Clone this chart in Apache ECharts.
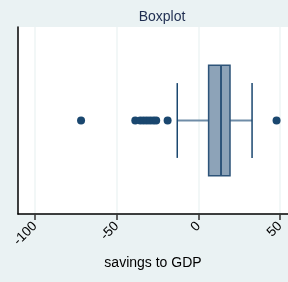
<!DOCTYPE html>
<html>
<head>
<meta charset="utf-8">
<script src="https://cdn.jsdelivr.net/npm/echarts@6/dist/echarts.min.js"></script>
<style>
  html, body { margin: 0; padding: 0; background: #eaf2f3; }
  #chart { width: 288px; height: 282px; }
</style>
</head>
<body>
<div id="chart"></div>
<script>
  'use strict'

  // box stats: [lower whisker, Q1, median, Q3, upper whisker]
  var categories = ['savings'];
  var boxStats = [-12.9, 6.3, 13.9, 19.4, 32.9];
  var outliers = [-71.8, -38.6, -35.5, -33.5, -31.5, -29.5, -27.5, -25.8, -18.8, 47.9];
  var tickValues = [-100, -50, 0, 50];

  var navy = '#1a476f';

  function renderBox(params, api) {
    var lo = api.value(1), q1 = api.value(2), med = api.value(3), q3 = api.value(4), hi = api.value(5);
    var c = api.coord([lo, api.value(0)]);
    var cy = c[1];
    var band = api.size([0, 1])[1];
    var bh = band * 0.295;
    var ch = band * 0.2;
    var xLo = c[0];
    var xQ1 = api.coord([q1, 0])[0];
    var xMed = api.coord([med, 0])[0];
    var xQ3 = api.coord([q3, 0])[0];
    var xHi = api.coord([hi, 0])[0];
    return {
      type: 'group',
      children: [
        { type: 'line', shape: { x1: xLo, y1: cy, x2: xQ1, y2: cy }, style: { stroke: '#6f8ca7', lineWidth: 2 } },
        { type: 'line', shape: { x1: xQ3, y1: cy, x2: xHi, y2: cy }, style: { stroke: '#6f8ca7', lineWidth: 2 } },
        { type: 'line', shape: { x1: xLo, y1: cy - ch, x2: xLo, y2: cy + ch }, style: { stroke: navy, lineWidth: 1.5 } },
        { type: 'line', shape: { x1: xHi, y1: cy - ch, x2: xHi, y2: cy + ch }, style: { stroke: navy, lineWidth: 1.5 } },
        { type: 'rect', shape: { x: xQ1, y: cy - bh, width: xQ3 - xQ1, height: bh * 2 }, style: { fill: '#8da3b8', stroke: '#2e5479', lineWidth: 1.5 } },
        { type: 'line', shape: { x1: xMed, y1: cy - bh, x2: xMed, y2: cy + bh }, style: { stroke: '#2e5479', lineWidth: 2 } }
      ]
    };
  }

  var chart = echarts.init(document.getElementById('chart'));

  var option = {
    backgroundColor: '#eaf2f3',
    animation: false,
    title: {
      text: 'Boxplot',
      left: 157,
      top: 5,
      textAlign: 'center',
      textStyle: { fontFamily: 'Liberation Sans', fontSize: 14, fontWeight: 'normal', color: '#1e2d50' }
    },
    grid: {
      left: 18,
      right: 0,
      top: 27,
      bottom: 68,
      show: true,
      backgroundColor: '#ffffff',
      borderWidth: 0
    },
    xAxis: {
      type: 'value',
      min: -110.4,
      max: 54.9,
      name: 'savings to GDP',
      nameLocation: 'middle',
      nameGap: 42,
      nameTextStyle: { fontFamily: 'Liberation Sans', fontSize: 14, color: '#000' },
      axisLine: { show: true, onZero: false, lineStyle: { color: '#000', width: 1.5 } },
      axisTick: { show: true, length: 6, customValues: tickValues, lineStyle: { color: '#333', width: 1.5 } },
      axisLabel: {
        customValues: tickValues,
        rotate: 45,
        margin: 10,
        fontFamily: 'Liberation Sans',
        fontSize: 13.5,
        color: '#000'
      },
      splitLine: { show: true, lineStyle: { color: '#eef4f5', width: 1.5 } }
    },
    yAxis: {
      type: 'category',
      data: categories,
      axisLine: { show: true, onZero: false, lineStyle: { color: '#000', width: 1.5 } },
      axisTick: { show: false },
      axisLabel: { show: false },
      splitLine: { show: false }
    },
    series: [
      {
        type: 'custom',
        renderItem: renderBox,
        encode: { x: [1, 2, 3, 4, 5], y: 0 },
        data: [[0].concat(boxStats)],
        z: 2
      },
      {
        type: 'scatter',
        symbolSize: 8,
        itemStyle: { color: navy, opacity: 1 },
        data: outliers.map(function (v) { return [v, 0]; }),
        z: 3
      }
    ]
  };

  chart.setOption(option);
</script>
</body>
</html>
